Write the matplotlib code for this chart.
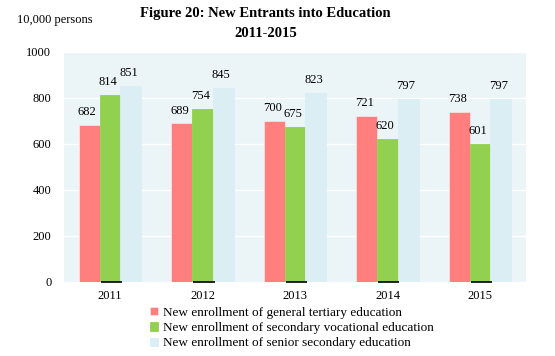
import matplotlib.pyplot as plt
import numpy as np

years = ["2011", "2012", "2013", "2014", "2015"]
tertiary = [682, 689, 700, 721, 738]
vocational = [814, 754, 675, 620, 601]
senior = [851, 845, 823, 797, 797]
series_names = [
    "New enrollment of general tertiary education",
    "New enrollment of secondary vocational education",
    "New enrollment of senior secondary education",
]
colors = ["#FF7F7F", "#92D050", "#DAEEF3"]

plt.rcParams["font.family"] = ["Liberation Serif", "DejaVu Serif"]

fig = plt.figure(figsize=(5.55, 3.56), dpi=100)
ax = fig.add_axes([0.115, 0.208, 0.833, 0.646])
ax.set_facecolor("#EBF5F8")

x = np.arange(len(years))
w = 0.224
for i, (vals, c, name) in enumerate(zip([tertiary, vocational, senior], colors, series_names)):
    pos = x + (i - 1) * w
    ax.bar(pos, vals, width=w, color=c, edgecolor="#FFE0E0" if i == 0 else c,
           linewidth=0.6, label=name, zorder=3)
    for px, v in zip(pos, vals):
        ax.annotate(str(v), (px, v), xytext=(-1.5, 5), textcoords="offset points",
                    ha="center", va="bottom", fontsize=9, zorder=4)

# short black ticks at the base of each group
ax.hlines([0] * len(x), x - 0.1, x + 0.13, color="black", linewidth=1.2, zorder=5, clip_on=False)

ax.set_xlim(-0.5, len(years) - 0.5)
ax.set_ylim(0, 1000)
ax.set_yticks(range(0, 1001, 200))
ax.set_xticks(x)
ax.set_xticklabels(years)
ax.tick_params(length=0, labelsize=9)
ax.tick_params(axis="x", pad=6)
ax.tick_params(axis="y", pad=9)
ax.grid(axis="y", color="white", linewidth=1, zorder=1)
for s in ax.spines.values():
    s.set_visible(False)

fig.text(0.03, 0.945, "10,000 persons", fontsize=9, ha="left", va="center")
fig.text(0.478, 0.962, "Figure 20: New Entrants into Education", fontsize=10.5,
         fontweight="bold", ha="center", va="center")
fig.text(0.478, 0.905, "2011-2015", fontsize=10.5, fontweight="bold", ha="center", va="center")

ax.legend(loc="upper left", bbox_to_anchor=(0.175, -0.085), frameon=False, fontsize=9.5,
          handlelength=0.6, handleheight=0.6, handletextpad=0.4, labelspacing=0.25,
          borderaxespad=0)

fig.savefig("out.png", dpi=100)
